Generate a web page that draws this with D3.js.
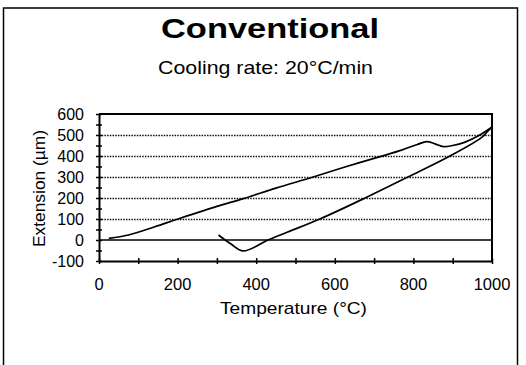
<!DOCTYPE html>
<html>
<head>
<meta charset="utf-8">
<script src="https://cdn.jsdelivr.net/npm/d3@7"></script>
<style>
  html, body { margin: 0; padding: 0; background: #fff; }
  svg { display: block; font-family: Arial, 'Liberation Sans', Helvetica, sans-serif; }
</style>
</head>
<body>
<div class="container"></div>
<script>
// Data
const heatTemp = [25, 75, 142, 201, 300, 367, 450, 545, 630, 715, 770, 810, 834, 855, 876, 900, 930, 969, 1000];
const heatExt = [8, 24, 63, 100, 160, 197, 247, 300, 350, 397, 428, 455, 468, 458, 445, 450, 465, 500, 538];
const coolTemp = [1000, 990, 975, 893, 786, 677, 562, 480, 430, 367, 335, 304];
const coolExt = [538, 520, 490, 400, 300, 200, 100, 38, 0, -52, -18, 24];
const xTickLabels = [0, 200, 400, 600, 800, 1000];
const yTickLabels = [-100, 0, 100, 200, 300, 400, 500, 600];
const gridValues = [100, 200, 300, 400, 500];

const width = 526;
const height = 365;

const svg = d3
  .select('.container')
  .append('svg')
  .attr('width', width)
  .attr('height', height);

// outer frame
svg
  .append('rect')
  .attr('x', 3.5)
  .attr('y', 8)
  .attr('width', 514)
  .attr('height', 370)
  .attr('fill', 'none')
  .attr('stroke', '#000')
  .attr('stroke-width', 1.5);

// Title
svg
  .append('text')
  .attr('x', 270)
  .attr('y', 38)
  .attr('text-anchor', 'middle')
  .attr('textLength', 218)
  .attr('lengthAdjust', 'spacingAndGlyphs')
  .style('font-size', '28px')
  .style('font-weight', 'bold')
  .text('Conventional');

svg
  .append('text')
  .attr('x', 265.5)
  .attr('y', 74)
  .attr('text-anchor', 'middle')
  .attr('textLength', 215)
  .attr('lengthAdjust', 'spacingAndGlyphs')
  .style('font-size', '19px')
  .text('Cooling rate: 20°C/min');

// Scales
const x = d3.scaleLinear().domain([0, 1000]).range([99, 492]);
const y = d3.scaleLinear().domain([-100, 600]).range([261, 114]);

// dotted gridlines
svg
  .append('g')
  .selectAll('line')
  .data(gridValues)
  .enter()
  .append('line')
  .attr('x1', x(0))
  .attr('x2', x(1000))
  .attr('y1', (d) => Math.round(y(d)) + 0.5)
  .attr('y2', (d) => Math.round(y(d)) + 0.5)
  .attr('stroke', '#111')
  .attr('stroke-width', 1.4)
  .attr('stroke-dasharray', '1.5,1.2');

// zero line
svg
  .append('line')
  .attr('x1', x(0))
  .attr('x2', x(1000))
  .attr('y1', y(0))
  .attr('y2', y(0))
  .attr('stroke', '#000')
  .attr('stroke-width', 1.5);

// plot frame top + right
svg
  .append('path')
  .attr('d', `M${x(0)},${y(600)}H${x(1000)}V${y(-100)}`)
  .attr('fill', 'none')
  .attr('stroke', '#000')
  .attr('stroke-width', 2);

// axes
const xAxis = d3
  .axisBottom(x)
  .tickValues(d3.range(0, 1001, 100))
  .tickSizeInner(3)
  .tickSizeOuter(0)
  .tickFormat('');
const gx = svg
  .append('g')
  .attr('transform', `translate(0,${y(-100)})`)
  .call(xAxis);
gx.select('.domain').attr('stroke-width', 2);
gx.selectAll('.tick line').attr('y1', -3).attr('stroke-width', 1.5);

const yAxis = d3
  .axisLeft(y)
  .tickValues(d3.range(-100, 601, 50))
  .tickSizeInner(3)
  .tickSizeOuter(0)
  .tickFormat('');
const gy = svg
  .append('g')
  .attr('transform', `translate(${x(0)},0)`)
  .call(yAxis);
gy.select('.domain').attr('stroke-width', 2);
gy.selectAll('.tick line').attr('x1', 3).attr('stroke-width', 1.5);

// tick labels
svg
  .append('g')
  .selectAll('text')
  .data(xTickLabels)
  .enter()
  .append('text')
  .attr('x', (d) => x(d))
  .attr('y', 290)
  .attr('text-anchor', 'middle')
  .style('font-size', '16.5px')
  .text((d) => d);

svg
  .append('g')
  .selectAll('text')
  .data(yTickLabels)
  .enter()
  .append('text')
  .attr('x', 84)
  .attr('y', (d) => y(d) + 5.5)
  .attr('text-anchor', 'end')
  .style('font-size', '16px')
  .text((d) => d);

// axis titles
svg
  .append('text')
  .attr('x', 293.5)
  .attr('y', 314)
  .attr('text-anchor', 'middle')
  .attr('textLength', 147)
  .attr('lengthAdjust', 'spacingAndGlyphs')
  .style('font-size', '17px')
  .text('Temperature (°C)');

svg
  .append('text')
  .attr('transform', 'translate(45,188.5) rotate(-90)')
  .attr('text-anchor', 'middle')
  .attr('textLength', 117)
  .attr('lengthAdjust', 'spacingAndGlyphs')
  .style('font-size', '17px')
  .text('Extension (µm)');

// curves
const line = d3
  .line()
  .x((d) => x(d[0]))
  .y((d) => y(d[1]))
  .curve(d3.curveCatmullRom);

svg
  .append('path')
  .datum(heatTemp.map((t, i) => [t, heatExt[i]]))
  .attr('d', line)
  .attr('fill', 'none')
  .attr('stroke', '#000')
  .attr('stroke-width', 1.7);

svg
  .append('path')
  .datum(coolTemp.map((t, i) => [t, coolExt[i]]))
  .attr('d', line)
  .attr('fill', 'none')
  .attr('stroke', '#000')
  .attr('stroke-width', 1.7);
</script>
</body>
</html>
